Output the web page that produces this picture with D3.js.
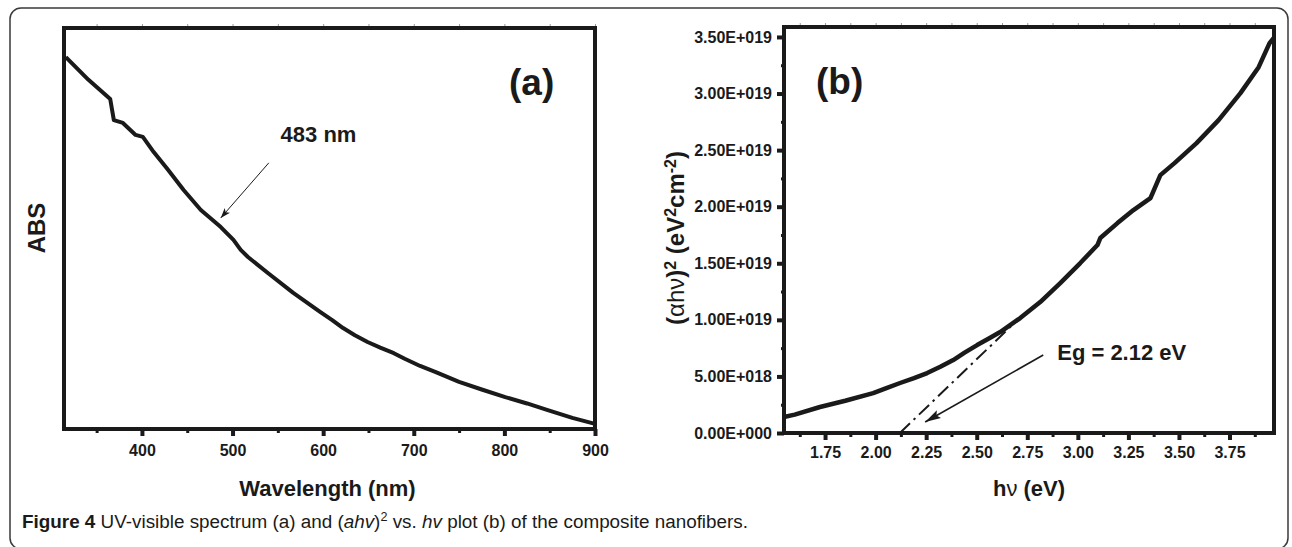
<!DOCTYPE html>
<html lang="en">
<head>
<meta charset="utf-8">
<title>Figure 4 - UV-visible spectrum and Tauc plot</title>
<script src="https://d3js.org/d3.v7.min.js"></script>
<style>
  body { margin: 0; background: #ffffff; }
  text { font-family: "Liberation Sans", Arial, sans-serif; fill: #1a1a1a; }
  .tick text { font-size: 16px; font-weight: bold; }
  .axis-title { font-size: 22px; font-weight: bold; }
  .panel-tag { font-size: 37px; font-weight: bold; }
  .note { font-size: 22px; font-weight: bold; }
  .caption { font-size: 18px; }
</style>
</head>
<body>
<div id="vis"></div>
<script>
// panel (a): UV-visible absorbance spectrum (arbitrary units)
const wavelength = [316, 341, 365, 369, 379, 393, 401, 413, 429, 446, 465, 487, 501, 509, 517, 539, 567, 597, 610, 622, 635, 649, 663, 678, 690, 707, 725, 750, 775, 801, 825, 847, 875, 900];
const absorbance = [0.927, 0.870, 0.822, 0.769, 0.762, 0.732, 0.727, 0.689, 0.644, 0.594, 0.544, 0.501, 0.469, 0.444, 0.426, 0.386, 0.336, 0.288, 0.268, 0.248, 0.230, 0.213, 0.199, 0.185, 0.171, 0.153, 0.137, 0.113, 0.094, 0.075, 0.059, 0.043, 0.023, 0.008];
const waveTicks = [400, 500, 600, 700, 800, 900];
const waveMinor = [350, 450, 550, 650, 750, 850];

// panel (b): (alpha h nu)^2 vs h nu
const photonEnergy = [1.547, 1.60, 1.725, 1.85, 1.988, 2.05, 2.121, 2.19, 2.255, 2.32, 2.384, 2.44, 2.502, 2.56, 2.616, 2.715, 2.814, 2.913, 3.012, 3.097, 3.111, 3.196, 3.275, 3.359, 3.408, 3.478, 3.587, 3.696, 3.804, 3.894, 3.948, 3.968];
const ahv2 = [1.41e18, 1.62e18, 2.30e18, 2.85e18, 3.53e18, 3.95e18, 4.42e18, 4.85e18, 5.30e18, 5.85e18, 6.45e18, 7.10e18, 7.77e18, 8.35e18, 8.92e18, 1.016e19, 1.157e19, 1.325e19, 1.502e19, 1.661e19, 1.723e19, 1.855e19, 1.970e19, 2.076e19, 2.279e19, 2.385e19, 2.562e19, 2.765e19, 3.004e19, 3.233e19, 3.445e19, 3.49e19];
const fitEnergy = [2.12, 2.72];
const fitValue = [0, 1.03e19];
const energyTicks = [1.75, 2.00, 2.25, 2.50, 2.75, 3.00, 3.25, 3.50, 3.75];
const energyMinor = [1.625, 1.875, 2.125, 2.375, 2.625, 2.875, 3.125, 3.375, 3.625, 3.875];
const ahvTicks = [0, 5e18, 1e19, 1.5e19, 2e19, 2.5e19, 3e19, 3.5e19];
const ahvTickLabels = ["0.00E+000", "5.00E+018", "1.00E+019", "1.50E+019", "2.00E+019", "2.50E+019", "3.00E+019", "3.50E+019"];
const ahvMinor = [2.5e18, 7.5e18, 1.25e19, 1.75e19, 2.25e19, 2.75e19, 3.25e19];

const width = 1292, height = 547;

const svg = d3.select("#vis").append("svg")
  .attr("width", width)
  .attr("height", height);

const defs = svg.append("defs");
defs.append("marker")
  .attr("id", "headThin")
  .attr("viewBox", "0 0 10 10")
  .attr("refX", 10).attr("refY", 5)
  .attr("markerWidth", 10).attr("markerHeight", 10)
  .attr("markerUnits", "userSpaceOnUse")
  .attr("orient", "auto")
  .append("path").attr("d", "M0,1.5 L10,5 L0,8.5 L2.5,5 Z").attr("fill", "#1a1a1a");
defs.append("marker")
  .attr("id", "headBold")
  .attr("viewBox", "0 0 16 10")
  .attr("refX", 16).attr("refY", 5)
  .attr("markerWidth", 16).attr("markerHeight", 10)
  .attr("markerUnits", "userSpaceOnUse")
  .attr("orient", "auto")
  .append("path").attr("d", "M0,0.5 L16,5 L0,9.5 L3,5 Z").attr("fill", "#1a1a1a");

// outer figure frame
svg.append("rect")
  .attr("x", 10).attr("y", 8)
  .attr("width", 1278).attr("height", 541)
  .attr("rx", 11)
  .attr("fill", "none")
  .attr("stroke", "#3a3a3a")
  .attr("stroke-width", 1.5);

//scales
const xA = d3.scaleLinear().domain([314, 900]).range([64, 595]);
const yA = d3.scaleLinear().domain([-0.005, 1.0]).range([429, 28]);
const xB = d3.scaleLinear().domain([1.547, 3.97]).range([784, 1274]);
const yB = d3.scaleLinear().domain([0, 3.588e19]).range([433, 27]);

function styleAxis(g, w) {
  g.select(".domain").remove();
  g.selectAll(".tick line").attr("stroke", "#1a1a1a").attr("stroke-width", w);
}

// ---------- panel (a) ----------
svg.append("g")
  .attr("transform", "translate(0," + yA.range()[0] + ")")
  .call(d3.axisBottom(xA).tickValues(waveMinor).tickSize(4).tickFormat(""))
  .call(g => styleAxis(g, 3));
svg.append("g")
  .attr("transform", "translate(0," + yA.range()[0] + ")")
  .call(d3.axisBottom(xA).tickValues(waveTicks).tickSize(7).tickPadding(9).tickFormat(d3.format("d")))
  .call(g => styleAxis(g, 4));
// faint mirrored ticks on the top edge
svg.append("g")
  .attr("transform", "translate(0," + yA.range()[1] + ")")
  .call(d3.axisTop(xA).tickValues(waveTicks.concat(waveMinor)).tickSize(4).tickFormat(""))
  .call(g => { styleAxis(g, 1); g.selectAll(".tick line").attr("stroke", "#999"); });

svg.append("rect")
  .attr("x", xA.range()[0]).attr("y", yA.range()[1])
  .attr("width", xA.range()[1] - xA.range()[0])
  .attr("height", yA.range()[0] - yA.range()[1])
  .attr("fill", "none").attr("stroke", "#1a1a1a").attr("stroke-width", 4);

const lineA = d3.line()
  .x((d, i) => xA(wavelength[i]))
  .y(d => yA(d));
svg.append("path")
  .datum(absorbance)
  .attr("d", lineA)
  .attr("fill", "none").attr("stroke", "#1a1a1a")
  .attr("stroke-width", 4).attr("stroke-linejoin", "round");

svg.append("text").attr("class", "panel-tag")
  .attr("x", 509).attr("y", 95).text("(a)");

// 483 nm annotation
svg.append("line")
  .attr("x1", xA(540)).attr("y1", yA(0.662))
  .attr("x2", xA(487)).attr("y2", yA(0.524))
  .attr("stroke", "#1a1a1a").attr("stroke-width", 1)
  .attr("marker-end", "url(#headThin)");
svg.append("text").attr("class", "note")
  .attr("x", xA(553)).attr("y", yA(0.714)).text("483 nm");

svg.append("text").attr("class", "axis-title")
  .attr("transform", "translate(45,228) rotate(-90)")
  .attr("text-anchor", "middle")
  .style("font-size", "24px")
  .text("ABS");
svg.append("text").attr("class", "axis-title")
  .attr("x", (xA.range()[0] + xA.range()[1]) / 2 - 2).attr("y", 496)
  .attr("text-anchor", "middle")
  .text("Wavelength (nm)");

// ---------- panel (b) ----------
svg.append("g")
  .attr("transform", "translate(0," + yB.range()[0] + ")")
  .call(d3.axisBottom(xB).tickValues(energyMinor).tickSize(4).tickFormat(""))
  .call(g => styleAxis(g, 3));
svg.append("g")
  .attr("transform", "translate(0," + yB.range()[0] + ")")
  .call(d3.axisBottom(xB).tickValues(energyTicks).tickSize(7).tickPadding(7).tickFormat(d3.format(".2f")))
  .call(g => styleAxis(g, 4));
svg.append("g")
  .attr("transform", "translate(0," + yB.range()[1] + ")")
  .call(d3.axisTop(xB).tickValues(energyTicks.concat(energyMinor)).tickSize(4).tickFormat(""))
  .call(g => { styleAxis(g, 1); g.selectAll(".tick line").attr("stroke", "#999"); });

svg.append("g")
  .attr("transform", "translate(" + xB.range()[0] + ",0)")
  .call(d3.axisLeft(yB).tickValues(ahvMinor).tickSize(3).tickFormat(""))
  .call(g => styleAxis(g, 3));
svg.append("g")
  .attr("transform", "translate(" + xB.range()[0] + ",0)")
  .call(d3.axisLeft(yB).tickValues(ahvTicks).tickSize(7).tickPadding(5)
    .tickFormat((d, i) => ahvTickLabels[i]))
  .call(g => styleAxis(g, 4));

svg.append("rect")
  .attr("x", xB.range()[0]).attr("y", yB.range()[1])
  .attr("width", xB.range()[1] - xB.range()[0])
  .attr("height", yB.range()[0] - yB.range()[1])
  .attr("fill", "none").attr("stroke", "#1a1a1a").attr("stroke-width", 4);

const lineB = d3.line()
  .x((d, i) => xB(photonEnergy[i]))
  .y(d => yB(d));
svg.append("path")
  .datum(ahv2)
  .attr("d", lineB)
  .attr("fill", "none").attr("stroke", "#1a1a1a")
  .attr("stroke-width", 4.5).attr("stroke-linejoin", "round");

// linear extrapolation to the band gap
const fitLine = d3.line().x((d, i) => xB(fitEnergy[i])).y(d => yB(d));
svg.append("path")
  .datum(fitValue)
  .attr("d", fitLine)
  .attr("fill", "none").attr("stroke", "#1a1a1a")
  .attr("stroke-width", 2)
  .attr("stroke-dasharray", "14,5,2.5,5");

svg.append("line")
  .attr("x1", xB(2.829)).attr("y1", yB(6.89e18))
  .attr("x2", xB(2.245)).attr("y2", yB(9.7e17))
  .attr("stroke", "#1a1a1a").attr("stroke-width", 1.6)
  .attr("marker-end", "url(#headBold)");
svg.append("text").attr("class", "note")
  .attr("x", xB(2.898)).attr("y", yB(6.45e18)).text("Eg = 2.12 eV");

svg.append("text").attr("class", "panel-tag")
  .attr("x", 816).attr("y", 94).text("(b)");

const yTitle = svg.append("text").attr("class", "axis-title")
  .attr("transform", "translate(684,238) rotate(-90)")
  .attr("text-anchor", "middle")
  .style("font-size", "24px");
yTitle.append("tspan").text("(");
yTitle.append("tspan").style("font-weight", "normal").text("αhν");
yTitle.append("tspan").text(")");
yTitle.append("tspan").attr("baseline-shift", "super").style("font-size", "16px").text("2");
yTitle.append("tspan").text(" (eV");
yTitle.append("tspan").attr("baseline-shift", "super").style("font-size", "16px").text("2");
yTitle.append("tspan").text("cm");
yTitle.append("tspan").attr("baseline-shift", "super").style("font-size", "16px").text("-2");
yTitle.append("tspan").text(")");

const xTitle = svg.append("text").attr("class", "axis-title")
  .attr("x", 1029).attr("y", 496)
  .attr("text-anchor", "middle");
xTitle.append("tspan").text("h");
xTitle.append("tspan").style("font-weight", "normal").text("ν");
xTitle.append("tspan").text(" (eV)");

// ---------- caption ----------
const cap = svg.append("text").attr("class", "caption")
  .attr("x", 22).attr("y", 528)
  .attr("textLength", 726).attr("lengthAdjust", "spacingAndGlyphs");
cap.append("tspan").style("font-weight", "bold").text("Figure 4");
cap.append("tspan").text(" UV-visible spectrum (a) and (");
cap.append("tspan").style("font-style", "italic").text("ahv");
cap.append("tspan").text(")");
cap.append("tspan").attr("baseline-shift", "super").style("font-size", "12px").text("2");
cap.append("tspan").text(" vs. ");
cap.append("tspan").style("font-style", "italic").text("hv");
cap.append("tspan").text(" plot (b) of the composite nanofibers.");
</script>
</body>
</html>
